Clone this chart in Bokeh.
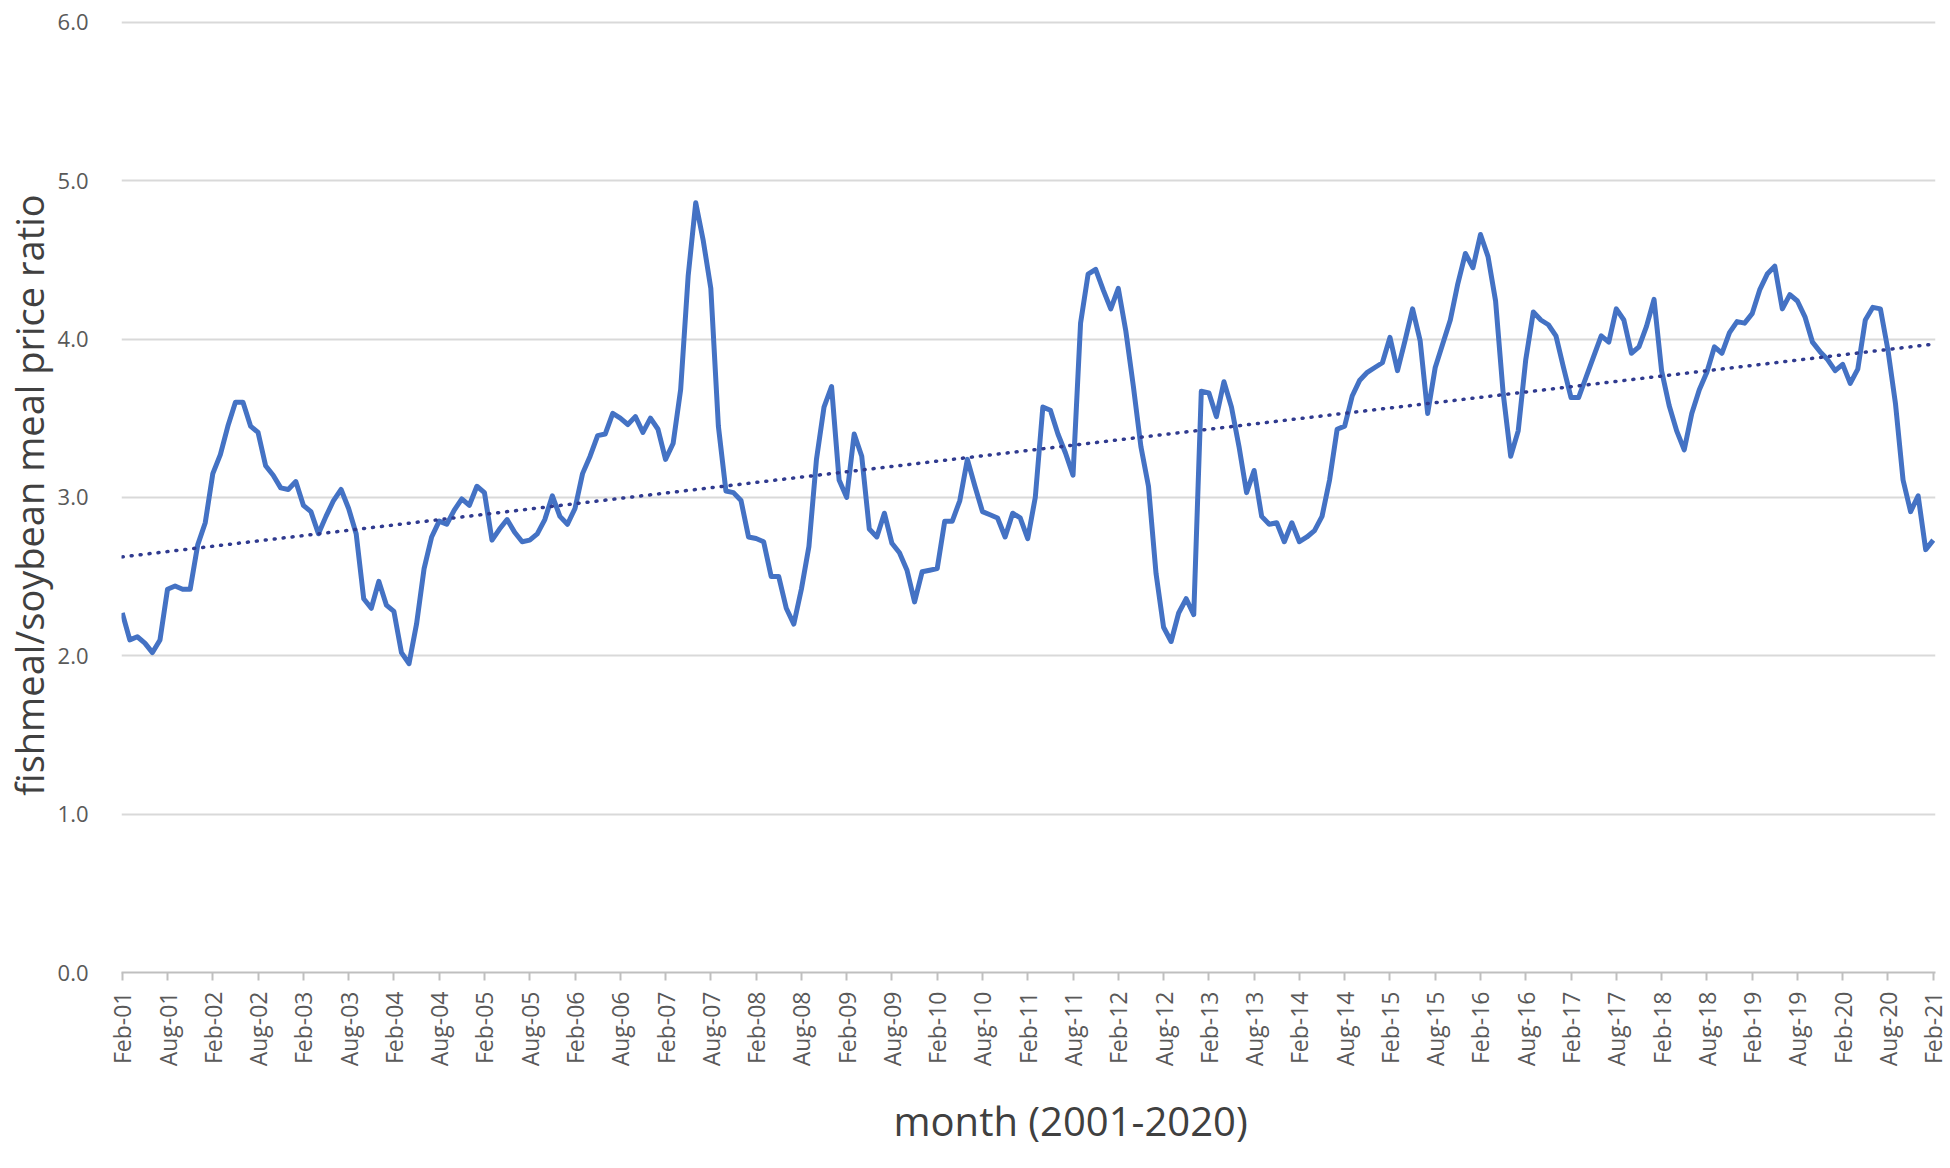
import math
import numpy as np
from bokeh.plotting import figure
from bokeh.models import Range1d, FixedTicker, Title, NumeralTickFormatter
from bokeh.embed import file_html
from bokeh.resources import INLINE

# Monthly fishmeal/soybean meal price ratio, Feb-2001 .. Feb-2021 (241 months)
ratio = [
    2.27, 2.10, 2.12, 2.08, 2.02, 2.10, 2.42, 2.44, 2.42, 2.42, 2.70, 2.84,
    3.15, 3.27, 3.45, 3.60, 3.60, 3.45, 3.41, 3.20, 3.14, 3.06, 3.05, 3.10,
    2.95, 2.91, 2.77, 2.88, 2.98, 3.05, 2.93, 2.77, 2.36, 2.30, 2.47, 2.32,
    2.28, 2.02, 1.95, 2.20, 2.55, 2.75, 2.85, 2.83, 2.92, 2.99, 2.95, 3.07,
    3.03, 2.73, 2.80, 2.86, 2.78, 2.72, 2.73, 2.77, 2.86, 3.01, 2.88, 2.83,
    2.93, 3.15, 3.26, 3.39, 3.40, 3.53, 3.50, 3.46, 3.51, 3.41, 3.50, 3.43,
    3.24, 3.34, 3.68, 4.40, 4.86, 4.62, 4.32, 3.45, 3.04, 3.03, 2.98, 2.75,
    2.74, 2.72, 2.50, 2.50, 2.30, 2.20, 2.42, 2.69, 3.24, 3.57, 3.70, 3.11,
    3.00, 3.40, 3.26, 2.80, 2.75, 2.90, 2.71, 2.65, 2.54, 2.34, 2.53, 2.54,
    2.55, 2.85, 2.85, 2.98, 3.24, 3.07, 2.91, 2.89, 2.87, 2.75, 2.90, 2.87,
    2.74, 3.00, 3.57, 3.55, 3.40, 3.28, 3.14, 4.10, 4.41, 4.44, 4.31, 4.19,
    4.32, 4.05, 3.70, 3.32, 3.07, 2.52, 2.18, 2.09, 2.27, 2.36, 2.26, 3.67,
    3.66, 3.51, 3.73, 3.57, 3.32, 3.03, 3.17, 2.88, 2.83, 2.84, 2.72, 2.84,
    2.72, 2.75, 2.79, 2.88, 3.11, 3.43, 3.45, 3.64, 3.74, 3.79, 3.82, 3.85,
    4.01, 3.80, 3.99, 4.19, 3.99, 3.53, 3.82, 3.97, 4.12, 4.35, 4.54, 4.45,
    4.66, 4.52, 4.24, 3.66, 3.26, 3.42, 3.87, 4.17, 4.12, 4.09, 4.02, 3.82,
    3.63, 3.63, 3.76, 3.89, 4.02, 3.98, 4.19, 4.12, 3.91, 3.95, 4.08, 4.25,
    3.80, 3.58, 3.42, 3.30, 3.53, 3.68, 3.79, 3.95, 3.91, 4.04, 4.11, 4.10,
    4.16, 4.31, 4.41, 4.46, 4.19, 4.28, 4.24, 4.14, 3.98, 3.92, 3.87, 3.80,
    3.84, 3.72, 3.81, 4.12, 4.20, 4.19, 3.93, 3.59, 3.11, 2.91, 3.01, 2.67,
    2.73,
]
month_index = list(range(len(ratio)))

tick_labels = [
    "Feb-01", "Aug-01", "Feb-02", "Aug-02", "Feb-03", "Aug-03", "Feb-04", "Aug-04",
    "Feb-05", "Aug-05", "Feb-06", "Aug-06", "Feb-07", "Aug-07", "Feb-08", "Aug-08",
    "Feb-09", "Aug-09", "Feb-10", "Aug-10", "Feb-11", "Aug-11", "Feb-12", "Aug-12",
    "Feb-13", "Aug-13", "Feb-14", "Aug-14", "Feb-15", "Aug-15", "Feb-16", "Aug-16",
    "Feb-17", "Aug-17", "Feb-18", "Aug-18", "Feb-19", "Aug-19", "Feb-20", "Aug-20",
    "Feb-21",
]
tick_positions = [6 * i for i in range(len(tick_labels))]
y_ticks = [0, 1, 2, 3, 4, 5, 6]

FONT = "Open Sans"

p = figure(width=1950, height=1168, output_backend="svg", toolbar_location=None,
           x_range=Range1d(-0.1, 240.3), y_range=Range1d(0, 6.03),
           min_border_left=121, min_border_right=15, min_border_top=17,
           min_border_bottom=195)
p.outline_line_color = None
p.background_fill_color = "white"
p.border_fill_color = "white"

# x axis
xa = p.xaxis[0]
xa.ticker = FixedTicker(ticks=tick_positions)
xa.major_label_overrides = {pos: lab for pos, lab in zip(tick_positions, tick_labels)}
xa.major_label_orientation = math.pi / 2
xa.major_label_text_font = FONT
xa.major_label_text_font_size = "23px"
xa.major_label_text_color = "#595959"
xa.major_label_standoff = 11
xa.major_tick_out = 8
xa.major_tick_in = 0
xa.major_tick_line_color = "#BFBFBF"
xa.major_tick_line_width = 2
xa.minor_tick_line_color = None
xa.axis_line_color = "#BFBFBF"
xa.axis_line_width = 2

# y axis
ya = p.yaxis[0]
ya.ticker = FixedTicker(ticks=y_ticks)
ya.formatter = NumeralTickFormatter(format="0.0")
ya.major_label_text_font = FONT
ya.major_label_text_font_size = "22px"
ya.major_label_text_color = "#595959"
ya.major_label_standoff = 33
ya.major_tick_out = 0
ya.major_tick_in = 0
ya.major_tick_line_color = None
ya.minor_tick_line_color = None
ya.minor_tick_out = 0
ya.axis_line_color = None

p.xgrid.visible = False
p.ygrid.grid_line_color = "#D9D9D9"
p.ygrid.grid_line_width = 2

# y axis title as a left-side title (stacked outside the tick labels)
p.add_layout(Title(text="fishmeal/soybean meal price ratio", align="center",
                   standoff=0, text_font=FONT, text_font_size="38px",
                   text_font_style="normal", text_color="#404040"), "left")

p.add_layout(Title(text="month (2001-2020)", align="left", offset=772, standoff=42,
                   text_font=FONT, text_font_size="40px", text_font_style="normal",
                   text_color="#404040"), "below")

p.line(month_index, ratio, line_color="#4472C4", line_width=5, line_join="round")

coef = np.polyfit(month_index, ratio, 1)
trend_x = [month_index[0], month_index[-1]]
trend_y = list(np.polyval(coef, trend_x))
p.line(trend_x, trend_y, line_color="#2F3A8F", line_width=3.5, line_dash="1 8",
       line_cap="round")

open("out.html", "w").write(file_html(p, INLINE))
